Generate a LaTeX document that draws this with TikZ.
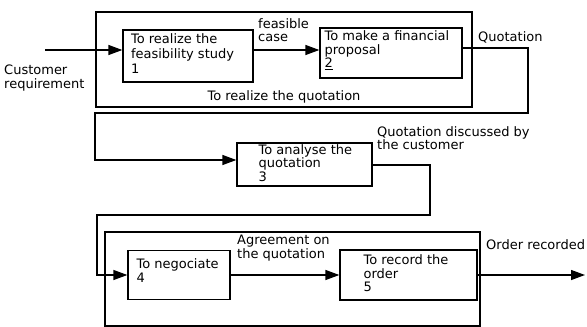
\documentclass[tikz,border=0pt]{standalone}
\usepackage{fontspec}
\setmainfont{DejaVu Sans}
\usetikzlibrary{arrows.meta,positioning,calc}
\tikzset{
  taskbox/.style={draw, line width=1.3pt, inner sep=0pt},
  frame/.style={draw, line width=1.3pt, inner sep=0pt},
  tasktext/.style={anchor=north west, align=left, inner sep=0pt,
    font=\fontsize{13}{13.5}\selectfont},
  flowlabel/.style={align=left, inner sep=0pt,
    font=\fontsize{13}{13.5}\selectfont},
  flow/.style={line width=1.3pt, -{Triangle[length=14pt,width=10pt]}}
}

\begin{document}
\begin{tikzpicture}[x=1pt, y=-1pt]
  \useasboundingbox (0,0) rectangle (587,327);

  % upper frame: realize the quotation
  \node[frame, minimum width=376pt, minimum height=95pt] (quotframe) at (284,59.5) {};
  \node[flowlabel, anchor=south] (quotlabel) at ([yshift=4pt]quotframe.south) {To realize the quotation};

  \node[taskbox, minimum width=130pt, minimum height=52pt] (feas) at (188,56) {};
  \node[tasktext, font=\fontsize{13}{15}\selectfont] (feastext) at ([xshift=8.5pt, yshift=-4pt]feas.north west) {To realize the\\feasibility study\\1};
  \node[taskbox, minimum width=142pt, minimum height=50pt] (fin) at (391,53) {};
  \node[tasktext] (fintext) at ([xshift=5pt, yshift=-3.5pt]fin.north west) {To make a financial\\proposal\\\underline{2}};

  % analysis
  \node[taskbox, minimum width=135pt, minimum height=43pt] (ana) at (304.5,164.5) {};
  \node[tasktext] (anatext) at ([xshift=22pt, yshift=-2pt]ana.north west) {To analyse the\\quotation\\3};

  % lower frame
  \node[frame, minimum width=375pt, minimum height=94pt] (ordframe) at (292.5,279) {};
  \node[taskbox, minimum width=102pt, minimum height=49pt] (neg) at (179,275) {};
  \node[tasktext] (negtext) at ([xshift=9pt, yshift=-9pt]neg.north west) {To negociate\\4};
  \node[taskbox, minimum width=137pt, minimum height=50pt] (rec) at (408.5,275) {};
  \node[tasktext] (rectext) at ([xshift=24pt, yshift=-5.5pt]rec.north west) {To record the\\order\\5};

  % labels on the flows
  \node[flowlabel, anchor=north west] (reqlabel) at (4,65) {Customer\\requirement};
  \node[flowlabel, anchor=north west] (caselabel) at (258,18) {feasible\\case};
  \node[flowlabel, anchor=north west] (quotout) at (478,31) {Quotation};
  \node[flowlabel, anchor=north west] (disclabel) at (377,126) {Quotation discussed by\\the customer};
  \node[flowlabel, anchor=north west] (agrlabel) at (237,235) {Agreement on\\the quotation};
  \node[flowlabel, anchor=north west] (ordlabel) at (486,239) {Order recorded};

  % connectors
  \coordinate (req) at (45,50);
  \coordinate (qtr) at (528,113);
  \coordinate (qtl) at (95,113);
  \coordinate (dtr) at (430,215);
  \coordinate (dtl) at (97,215);
  \coordinate (ordout) at (585,275);

  \draw[flow] (req) -- (req -| feas.west);
  \draw[flow] (req -| feas.east) -- (req -| fin.west);
  \draw[flow] ([yshift=5pt]fin.east) -| (qtr) -- (qtl) |- ([yshift=4.5pt]ana.west);
  \draw[flow] ([yshift=-0.5pt]ana.east) -| (dtr) -- (dtl) |- (neg.west);
  \draw[flow] (neg.east) -- (rec.west);
  \draw[flow] (rec.east) -- (ordout);
\end{tikzpicture}
\end{document}
